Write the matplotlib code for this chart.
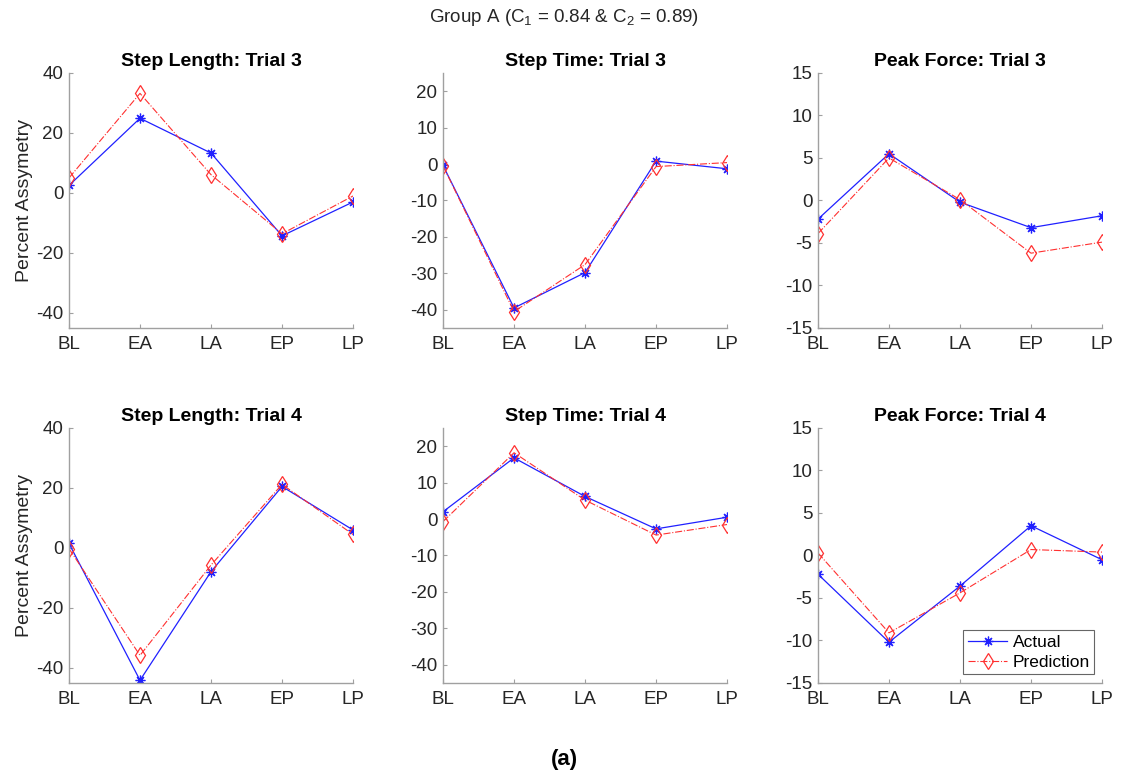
import matplotlib
matplotlib.use("Agg")
import matplotlib.pyplot as plt

plt.rcParams['font.family'] = ['Liberation Sans', 'DejaVu Sans']
plt.rcParams['mathtext.default'] = 'regular'
plt.rcParams['axes.unicode_minus'] = False

phases = ['BL', 'EA', 'LA', 'EP', 'LP']

# Step Length
sl_t3_actual = [2.5, 24.9, 13.3, -14.3, -3.0]
sl_t3_pred = [5.0, 33.2, 6.1, -13.6, -1.0]
sl_t4_actual = [1.5, -44.1, -7.9, 20.5, 6.0]
sl_t4_pred = [-0.2, -35.8, -5.7, 21.2, 4.5]

# Step Time
st_t3_actual = [-0.4, -39.5, -29.8, 0.8, -1.3]
st_t3_pred = [-0.5, -40.5, -27.6, -0.7, 0.4]
st_t4_actual = [2.0, 16.8, 6.2, -2.7, 0.5]
st_t4_pred = [-0.7, 18.2, 5.2, -4.4, -1.5]

# Peak Force
pf_t3_actual = [-2.2, 5.5, -0.2, -3.2, -1.8]
pf_t3_pred = [-3.9, 5.0, 0.1, -6.2, -4.9]
pf_t4_actual = [-2.2, -10.2, -3.6, 3.5, -0.5]
pf_t4_pred = [0.3, -9.1, -4.4, 0.7, 0.4]

panels = [
    ('Step Length: Trial 3', sl_t3_actual, sl_t3_pred, (-45, 40), [-40, -20, 0, 20, 40]),
    ('Step Time: Trial 3', st_t3_actual, st_t3_pred, (-45, 25), [-40, -30, -20, -10, 0, 10, 20]),
    ('Peak Force: Trial 3', pf_t3_actual, pf_t3_pred, (-15, 15), [-15, -10, -5, 0, 5, 10, 15]),
    ('Step Length: Trial 4', sl_t4_actual, sl_t4_pred, (-45, 40), [-40, -20, 0, 20, 40]),
    ('Step Time: Trial 4', st_t4_actual, st_t4_pred, (-45, 25), [-40, -30, -20, -10, 0, 10, 20]),
    ('Peak Force: Trial 4', pf_t4_actual, pf_t4_pred, (-15, 15), [-15, -10, -5, 0, 5, 10, 15]),
]

fig = plt.figure(figsize=(11.29, 7.77), dpi=100)

lefts = [0.0611, 0.3924, 0.7245]
bottoms = [0.5779, 0.121]
w, h = 0.2516, 0.3282

asterisk = (8, 2, 0)  # MATLAB style '*'

x = list(range(len(phases)))
for i, (title, actual, pred, ylim, yticks) in enumerate(panels):
    ax = fig.add_axes([lefts[i % 3], bottoms[i // 3], w, h])
    ax.plot(x, actual, '-', marker=asterisk, color='#2020ff', lw=0.9, ms=7, mew=0.9,
            label='Actual')
    ax.plot(x, pred, '-.d', color='#ff3030', lw=0.8, ms=8, mfc='none', mew=0.9,
            label='Prediction')
    ax.set_xlim(0, 4)
    ax.set_ylim(*ylim)
    ax.set_xticks(x)
    ax.set_xticklabels(phases)
    ax.set_yticks(yticks)
    ax.set_title(title, fontsize=14, fontweight='bold', pad=5)
    for side in ['top', 'right']:
        ax.spines[side].set_visible(False)
    for side in ['left', 'bottom']:
        ax.spines[side].set_color('#a0a0a0')
        ax.spines[side].set_linewidth(1.0)
    ax.tick_params(direction='in', length=3, color='#a0a0a0', labelsize=13.5,
                   labelcolor='#262626', pad=4)
    ax.tick_params(axis='x', pad=6)
    if i % 3 == 0:
        ax.set_ylabel('Percent Assymetry', fontsize=14, color='#262626', labelpad=2)
    if i == 5:
        leg = ax.legend(loc='lower right', fontsize=12.5, frameon=True, fancybox=False,
                        borderpad=0.25, handlelength=2.3, handletextpad=0.3,
                        labelspacing=0.3, borderaxespad=0.2,
                        bbox_to_anchor=(0.985, 0.02))
        leg.get_frame().set_edgecolor('#404040')
        leg.get_frame().set_linewidth(0.8)

fig.text(0.5, 0.978, 'Group A (C$_1$ = 0.84 & C$_2$ = 0.89)', ha='center', va='center',
         fontsize=13.5, color='#262626')
fig.text(0.5, 0.022, '(a)', ha='center', va='center', fontsize=16, fontweight='bold')

fig.savefig('out.png', dpi=100)
